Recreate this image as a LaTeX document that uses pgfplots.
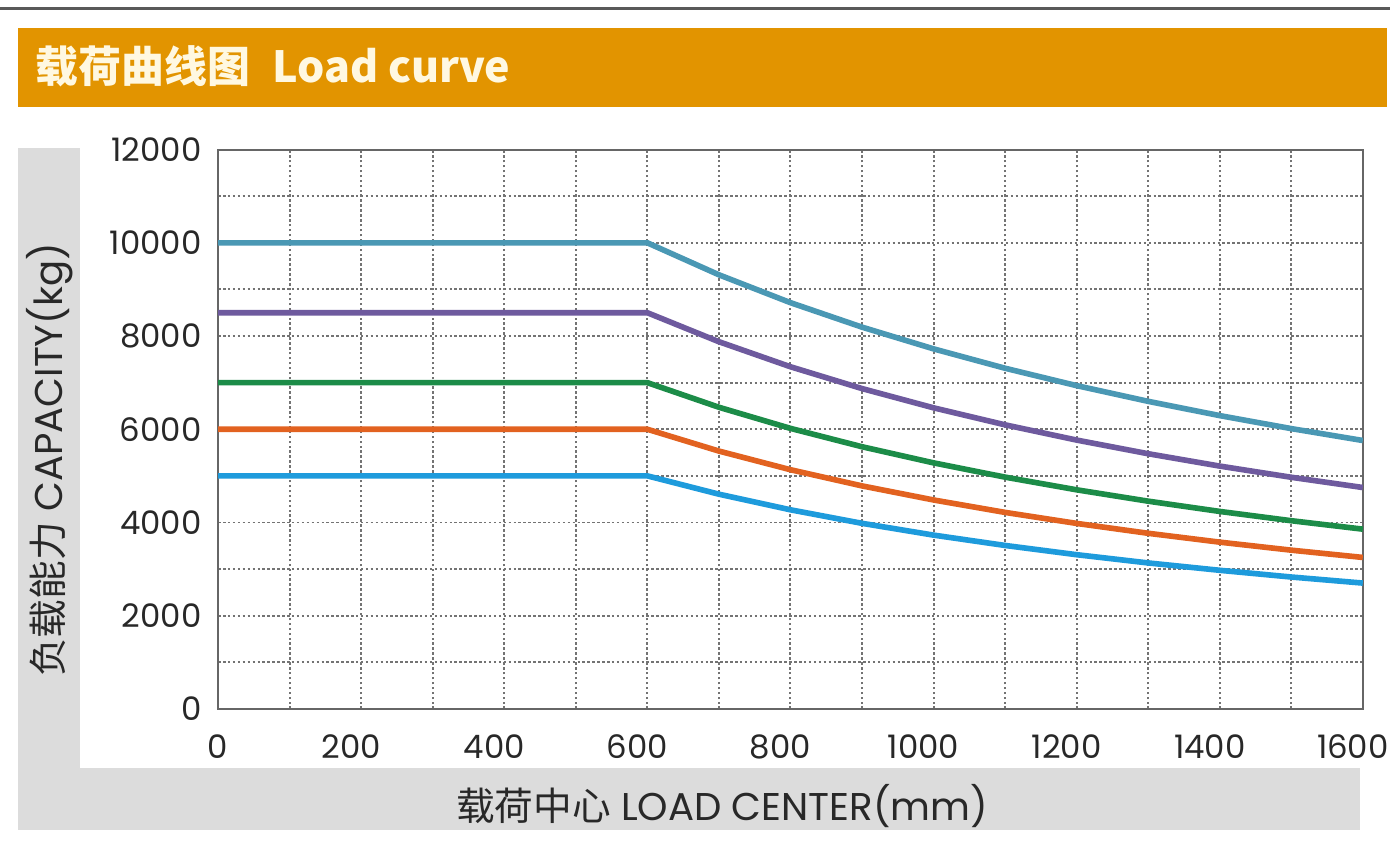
\documentclass[border=0pt]{standalone}
\usepackage{pgfplots}
\pgfplotsset{compat=1.18}
\usepackage{fontspec}
\setmainfont{Poppins}
\newfontfamily\cjk{Noto Sans CJK SC}

\definecolor{hdr}{RGB}{226,148,0}
\definecolor{hdrtxt}{RGB}{255,248,225}
\definecolor{panel}{RGB}{220,220,220}
\definecolor{cteal}{RGB}{74,152,180}
\definecolor{cpurp}{RGB}{110,90,158}
\definecolor{cgreen}{RGB}{28,140,72}
\definecolor{corange}{RGB}{226,98,32}
\definecolor{cblue}{RGB}{30,155,220}
\definecolor{txt}{RGB}{40,40,40}

\begin{document}
\begin{tikzpicture}[x=0.01cm,y=0.01cm]
\useasboundingbox (0,0) rectangle (1390,842);
\fill[white] (0,0) rectangle (1390,842);
% top rule and header bar
\fill[black!65] (0,832) rectangle (1390,835);
\fill[hdr] (18,735) rectangle (1387,814);
\node[anchor=base west, inner sep=0pt, text=hdrtxt] at (35,759)
  {\cjk\bfseries\fontsize{12.2}{14}\selectfont 载荷曲线图\hspace{0.22cm}Load curve};
% grey L-shaped panel behind the plot
\fill[panel] (18,12) rectangle (1360,694);
\fill[white] (80,74) rectangle (1390,694);
\node[rotate=90, text=txt] at (50,382)
  {\fontsize{11}{13}\selectfont{\cjk 负载能力} CAPACITY(kg)};
\node[text=txt] at (722,36)
  {\fontsize{11}{13}\selectfont{\cjk 载荷中心} LOAD CENTER(mm)};

\begin{axis}[
  at={(2.18cm,1.33cm)}, anchor=south west,
  scale only axis, width=11.44cm, height=5.59cm,
  xmin=0, xmax=1600, ymin=0, ymax=12000,
  xtick={0,200,...,1600}, minor xtick={100,300,...,1500},
  xticklabels={\hspace{0.2cm}0,200,400,600,800,1000,1200,1400,1600},
  ytick={0,2000,...,12000}, minor ytick={1000,3000,...,11000},
  grid=both,
  major grid style={black!55, dash pattern=on 0.7pt off 0.7pt, line width=0.55pt},
  minor grid style={black!55, dash pattern=on 0.7pt off 0.7pt, line width=0.55pt},
  major tick length=0pt, minor tick length=0pt,
  axis line style={black!60, line width=0.6pt},
  scaled ticks=false,
  /pgf/number format/1000 sep={},
  /pgf/number format/assume math mode=true,
  tick label style={font=\fontsize{9.2}{11}\selectfont, text=txt},
  xticklabel style={anchor=center, yshift=-0.38cm, xshift=-0.1cm},
  yticklabel style={anchor=east, inner sep=0pt, xshift=-0.16cm},
  every axis plot/.append style={line width=1.6pt, line join=round},
]
% Q0 = 10000 kg
\addplot[cteal] coordinates {(0,10000) (600,10000) (700,9314) (800,8716) (900,8191)
  (1000,7725) (1100,7309) (1200,6936) (1300,6599) (1400,6293) (1500,6014) (1600,5759)};
% Q0 = 8500 kg
\addplot[cpurp] coordinates {(0,8500) (600,8500) (700,7878) (800,7341) (900,6873)
  (1000,6460) (1100,6095) (1200,5768) (1300,5475) (1400,5210) (1500,4970) (1600,4750)};
% Q0 = 7000 kg
\addplot[cgreen] coordinates {(0,7000) (600,7000) (700,6472) (800,6019) (900,5625)
  (1000,5279) (1100,4973) (1200,4701) (1300,4457) (1400,4237) (1500,4038) (1600,3857)};
% Q0 = 6000 kg
\addplot[corange] coordinates {(0,6000) (600,6000) (700,5532) (800,5132) (900,4785)
  (1000,4483) (1100,4216) (1200,3980) (1300,3768) (1400,3578) (1500,3406) (1600,3250)};
% Q0 = 5000 kg
\addplot[cblue] coordinates {(0,5000) (600,5000) (700,4607) (800,4272) (900,3982)
  (1000,3729) (1100,3507) (1200,3309) (1300,3132) (1400,2974) (1500,2830) (1600,2700)};
\end{axis}
\end{tikzpicture}
\end{document}
